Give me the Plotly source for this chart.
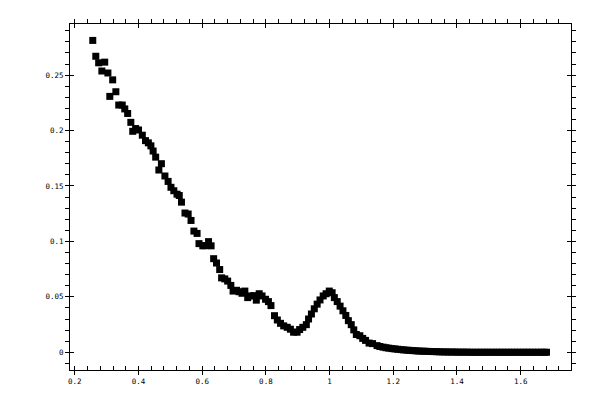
import plotly.graph_objects as go

# valeurs
x_vals = [
    0.2565, 0.266, 0.275, 0.285, 0.294, 0.304, 0.310, 0.319, 0.329, 0.338,
    0.349, 0.357, 0.366, 0.376, 0.382, 0.391, 0.400, 0.412, 0.422, 0.431,
    0.439, 0.446, 0.454, 0.464, 0.472, 0.483, 0.493, 0.502, 0.511, 0.521,
    0.528, 0.535, 0.546, 0.556, 0.565, 0.574, 0.584, 0.590, 0.602, 0.610,
    0.620, 0.628, 0.636, 0.645, 0.655, 0.661, 0.671, 0.680, 0.690, 0.697,
    0.708, 0.716, 0.725, 0.734, 0.743, 0.751, 0.762, 0.770, 0.779, 0.788,
    0.799, 0.808, 0.816, 0.827, 0.836, 0.846, 0.856, 0.867, 0.877, 0.887,
    0.898, 0.906, 0.916, 0.927, 0.934, 0.943, 0.952, 0.961, 0.970, 0.980,
    0.989, 0.999, 1.008, 1.015, 1.024, 1.033, 1.042, 1.051, 1.059, 1.068,
    1.076, 1.084, 1.095, 1.104, 1.113, 1.124, 1.135, 1.149,
    1.158, 1.168, 1.177, 1.186, 1.196, 1.205, 1.214, 1.224, 1.233, 1.243,
    1.252, 1.262, 1.271, 1.280, 1.290, 1.299, 1.309, 1.318, 1.327, 1.337,
    1.346, 1.356, 1.365, 1.374, 1.384, 1.393, 1.402, 1.412, 1.421, 1.431,
    1.440, 1.449, 1.459, 1.468, 1.478, 1.487, 1.496, 1.506, 1.515, 1.525,
    1.534, 1.543, 1.553, 1.562, 1.572, 1.581, 1.590, 1.600, 1.609, 1.619,
    1.628, 1.637, 1.647, 1.656, 1.666, 1.675, 1.681,
]
y_vals = [
    0.2813, 0.2670, 0.2611, 0.2537, 0.2617, 0.2519, 0.2308, 0.2457, 0.2350, 0.2230,
    0.2230, 0.2195, 0.2154, 0.2074, 0.1993, 0.2018, 0.2005, 0.1958, 0.1909, 0.1889,
    0.1862, 0.1815, 0.1760, 0.1644, 0.1701, 0.1590, 0.1541, 0.1488, 0.1457, 0.1426,
    0.1414, 0.1354, 0.1256, 0.1247, 0.1189, 0.1093, 0.1072, 0.0980, 0.0960, 0.0962,
    0.0998, 0.0960, 0.0844, 0.0805, 0.0746, 0.0671, 0.0662, 0.0642, 0.0603, 0.0552,
    0.0559, 0.0546, 0.0532, 0.0552, 0.0493, 0.0508, 0.0511, 0.0470, 0.0528, 0.0508,
    0.0478, 0.0457, 0.0421, 0.0330, 0.0291, 0.0261, 0.0238, 0.0225, 0.0208, 0.0181,
    0.0181, 0.0205, 0.0225, 0.0249, 0.0300, 0.0345, 0.0392, 0.0434, 0.0472, 0.0508,
    0.0528, 0.0552, 0.0537, 0.0493, 0.0457, 0.0416, 0.0374, 0.0332, 0.0285, 0.0249,
    0.0202, 0.0160, 0.0149, 0.0125, 0.0107, 0.0083, 0.0078, 0.0060,
    0.0052, 0.0046, 0.0041, 0.0037, 0.0033, 0.0030, 0.0027, 0.0024, 0.0021, 0.0019,
    0.0017, 0.0015, 0.0013, 0.0011, 0.0010, 0.0009, 0.0008, 0.0007, 0.0006, 0.0005,
    0.0004, 0.0003, 0.0003, 0.0002, 0.0002, 0.0002, 0.0001, 0.0001, 0.0001, 0.0001,
    0.0, 0.0, 0.0, 0.0, 0.0, 0.0, 0.0, 0.0, 0.0, 0.0,
    0.0, 0.0, 0.0, 0.0, 0.0, 0.0, 0.0, 0.0, 0.0, 0.0,
    0.0, 0.0, 0.0, 0.0, 0.0, 0.0, 0.0,
]

x_range = [0.185, 1.758]
y_range = [-0.016, 0.2961]

fig = go.Figure(go.Scatter(
    x=x_vals,
    y=y_vals,
    mode="markers",
    marker=dict(symbol="square", size=7, color="black", line=dict(width=0)),
    showlegend=False,
))

# traces vides pour que les axes superposés soient bien dessinés
for xa, ya in [("x2", "y"), ("x3", "y"), ("x4", "y"), ("x", "y2")]:
    fig.add_trace(go.Scatter(x=[], y=[], xaxis=xa, yaxis=ya, mode="markers",
                             showlegend=False, hoverinfo="skip"))

police = dict(family="DejaVu Sans Mono", size=7.5, color="black")
base = dict(linecolor="black", linewidth=1, tickcolor="black", ticklen=4,
            showgrid=False, zeroline=False, tickfont=police)

# les graduations principales traversent le cadre : un axe "outside" + un axe "inside" superposé
fig.update_layout(
    width=600,
    height=400,
    margin=dict(l=62, r=37, t=12, b=38),  # la page ajoute 8 px autour
    plot_bgcolor="white",
    paper_bgcolor="white",
    xaxis=dict(base, range=x_range, dtick=0.2, tick0=0, showline=True,
               ticks="outside", side="bottom",
               minor=dict(dtick=0.04, ticks="inside", ticklen=4, tickcolor="black")),
    xaxis2=dict(base, range=x_range, dtick=0.2, tick0=0, overlaying="x", anchor="y",
                side="bottom", ticks="inside", showticklabels=False, showline=False),
    xaxis3=dict(base, range=x_range, dtick=0.2, tick0=0, overlaying="x", anchor="y",
                side="top", ticks="outside", showticklabels=False, showline=True,
                minor=dict(dtick=0.04, ticks="outside", ticklen=4, tickcolor="black")),
    xaxis4=dict(base, range=x_range, dtick=0.2, tick0=0, overlaying="x", anchor="y",
                side="top", ticks="inside", showticklabels=False, showline=False),
    yaxis=dict(base, range=y_range, dtick=0.05, tick0=0, showline=True,
               mirror="ticks", ticks="outside",
               minor=dict(dtick=0.01, ticks="outside", ticklen=4, tickcolor="black")),
    yaxis2=dict(base, range=y_range, dtick=0.05, tick0=0, overlaying="y", anchor="x",
                mirror="ticks", ticks="inside", showticklabels=False, showline=True),
)

fig.write_html("out.html")
